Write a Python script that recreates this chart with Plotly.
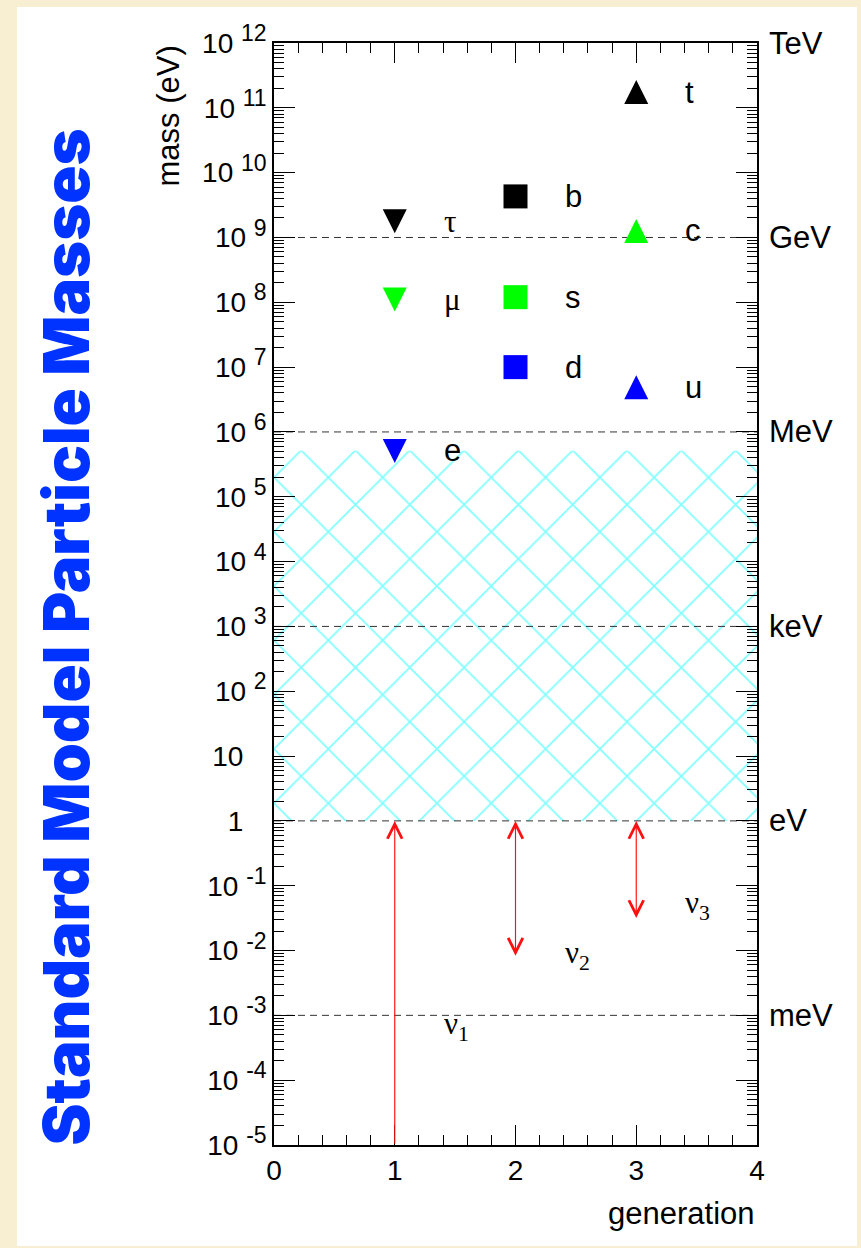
import numpy as np
import plotly.graph_objects as go

# ---------------- data ----------------
lepton_names = ["τ", "μ", "e"]
lepton_gen = [1, 1, 1]
lepton_mass = [1.78e9, 1.1e8, 5.1e5]
lepton_colors = ["#000000", "#00ff00", "#0000ff"]

down_names = ["b", "s", "d"]
down_gen = [2, 2, 2]
down_mass = [4.3e9, 1.2e8, 1.0e7]
down_colors = ["#000000", "#00ff00", "#0000ff"]

up_names = ["t", "c", "u"]
up_gen = [3, 3, 3]
up_mass = [1.75e11, 1.26e9, 4.9e6]
up_colors = ["#000000", "#00ff00", "#0000ff"]

nu_names = ["ν<sub>1</sub>", "ν<sub>2</sub>", "ν<sub>3</sub>"]
nu_gen = [1, 2, 3]
nu_upper = [1.0, 1.0, 1.0]
nu_lower = [1e-5, 7.9e-3, 3.0e-2]
nu_label_y = [6.8e-4, 8.5e-3, 5.0e-2]
nu_double = [False, True, True]

hatch_x = [0, 4, 4, 0, 0]
hatch_y = [1.0, 1.0, 5.11e5, 5.11e5, 1.0]

unit_names = ["TeV", "GeV", "MeV", "keV", "eV", "meV"]
unit_vals = [1e12, 1e9, 1e6, 1e3, 1.0, 1e-3]
dashed_levels = [1e9, 1e6, 1e3, 1.0, 1e-3]

y_exps = list(range(-5, 13))
x_ticks = [0, 1, 2, 3, 4]

# ---------------- geometry ----------------
W, H = 861, 1248
L, R, T, B = 274, 861 - 757, 43, 1248 - 1145
PW, PH = W - L - R, H - T - B

def px_x(p):
    return (p - L) / PW

def px_y(p):
    return (H - B - p) / PH

SANS = "Liberation Sans, Arial, sans-serif"
SERIF = "Liberation Serif, Times New Roman, serif"

fig = go.Figure()

# hatched region
fig.add_trace(go.Scatter(
    x=hatch_x, y=hatch_y, mode="lines", fill="toself",
    fillcolor="rgba(0,0,0,0)", line=dict(width=0),
    fillpattern=dict(shape="x", size=38.4, solidity=0.085,
                     fgcolor="#00ffff", bgcolor="rgba(0,0,0,0)"),
    hoverinfo="skip", showlegend=False))

# dashed reference lines
for lv in dashed_levels:
    fig.add_trace(go.Scatter(
        x=[0, 4], y=[lv, lv], mode="lines",
        line=dict(color="#333333", width=1, dash="7px,5px"),
        hoverinfo="skip", showlegend=False))

# markers
fig.add_trace(go.Scatter(
    x=lepton_gen, y=lepton_mass, mode="markers",
    marker=dict(symbol="arrow-down", size=24, standoff=12,
                color=lepton_colors, line=dict(width=0)),
    showlegend=False))
fig.add_trace(go.Scatter(
    x=down_gen, y=down_mass, mode="markers",
    marker=dict(symbol="square", size=24, color=down_colors, line=dict(width=0)),
    showlegend=False))
fig.add_trace(go.Scatter(
    x=up_gen, y=up_mass, mode="markers",
    marker=dict(symbol="arrow-down", angle=180, size=24, standoff=12,
                color=up_colors, line=dict(width=0)),
    showlegend=False))

annotations = []

def label(x, y, text, family):
    annotations.append(dict(
        x=x, y=np.log10(y), xref="x", yref="y", text=text, showarrow=False,
        xanchor="left", yanchor="middle",
        font=dict(family=family, size=31, color="black")))

for n, g, m in zip(lepton_names, lepton_gen, lepton_mass):
    label(g + 0.39, m, n, SERIF if n in ("τ", "μ") else SANS)
for n, g, m in zip(down_names, down_gen, down_mass):
    label(g + 0.39, m, n, SANS)
for n, g, m in zip(up_names, up_gen, up_mass):
    label(g + 0.39, m, n, SANS)
for n, g, m in zip(nu_names, nu_gen, nu_label_y):
    label(g + 0.39, m, n, SERIF)

# neutrino arrows
for g, up, lo, dbl in zip(nu_gen, nu_upper, nu_lower, nu_double):
    annotations.append(dict(
        x=g, y=np.log10(up), ax=g, ay=np.log10(lo),
        xref="x", yref="y", axref="x", ayref="y", text="",
        showarrow=True, arrowhead=5, startarrowhead=5,
        arrowside="end+start" if dbl else "end",
        arrowsize=2.5, startarrowsize=2.5, arrowwidth=1.15,
        arrowcolor="#ff1010", standoff=0, startstandoff=0))

# unit labels on the right
for n, v in zip(unit_names, unit_vals):
    annotations.append(dict(
        x=1, y=np.log10(v), xref="paper", yref="y", text=n, showarrow=False,
        xanchor="left", yanchor="middle", xshift=10,
        font=dict(family=SANS, size=31, color="black")))

# axis titles
annotations.append(dict(
    x=1, y=px_y(1213), xref="paper", yref="paper", text="generation",
    showarrow=False, xanchor="right", yanchor="middle",
    font=dict(family=SANS, size=31, color="black")))
annotations.append(dict(
    x=px_x(168), y=px_y(44), xref="paper", yref="paper", text="mass (eV)",
    showarrow=False, xanchor="center", yanchor="top", textangle=-90,
    font=dict(family=SANS, size=31, color="black")))

# big title
annotations.append(dict(
    x=px_x(65), y=px_y(1148), xref="paper", yref="paper",
    text="Standard Model Particle Masses",
    showarrow=False, xanchor="center", yanchor="bottom", textangle=-90,
    font=dict(family="Inter, Lato, sans-serif", size=63, color="#0033ff", weight=900)))

def ylab(e):
    if e == 0:
        return "1\u00a0\u00a0\u00a0"
    if e == 1:
        return "10\u00a0\u00a0\u00a0"
    return "10\u00a0<sup><span style='font-size:23px'>%d</span></sup>" % e

minor_y = [k * 10.0 ** e for e in range(-5, 12) for k in range(2, 10)]

fig.update_layout(
    width=W, height=H, autosize=False,
    margin=dict(l=L, r=R, t=T, b=B, pad=0),
    paper_bgcolor="#f8efd3", plot_bgcolor="white",
    showlegend=False,
    font=dict(family=SANS, color="black"),
    xaxis=dict(
        range=[0, 4], tickmode="array", tickvals=x_ticks,
        ticktext=[str(v) for v in x_ticks],
        ticks="inside", ticklen=20, tickwidth=1, tickcolor="black",
        minor=dict(dtick=0.2, tick0=0, ticks="inside", ticklen=10,
                   tickwidth=1, tickcolor="black", showgrid=False),
        showline=True, linewidth=1.5, linecolor="black", mirror="ticks",
        showgrid=False, zeroline=False,
        tickfont=dict(family=SANS, size=28, color="black")),
    yaxis=dict(
        type="log", range=[-5, 12], tickmode="array",
        tickvals=[10.0 ** e for e in y_exps],
        ticktext=[ylab(e) for e in y_exps],
        ticks="inside", ticklen=21, tickwidth=1, tickcolor="black",
        minor=dict(tickmode="array", tickvals=minor_y, ticks="inside",
                   ticklen=10, tickwidth=1, tickcolor="black", showgrid=False),
        showline=True, linewidth=1.5, linecolor="black", mirror="ticks",
        showgrid=False, zeroline=False,
        tickfont=dict(family=SANS, size=28, color="black")),
    annotations=annotations,
    shapes=[dict(type="rect", xref="paper", yref="paper", layer="below",
                 x0=px_x(17), x1=px_x(857), y0=px_y(1246), y1=px_y(7),
                 fillcolor="white", line=dict(width=0))],
)

fig.write_html("out.html")
